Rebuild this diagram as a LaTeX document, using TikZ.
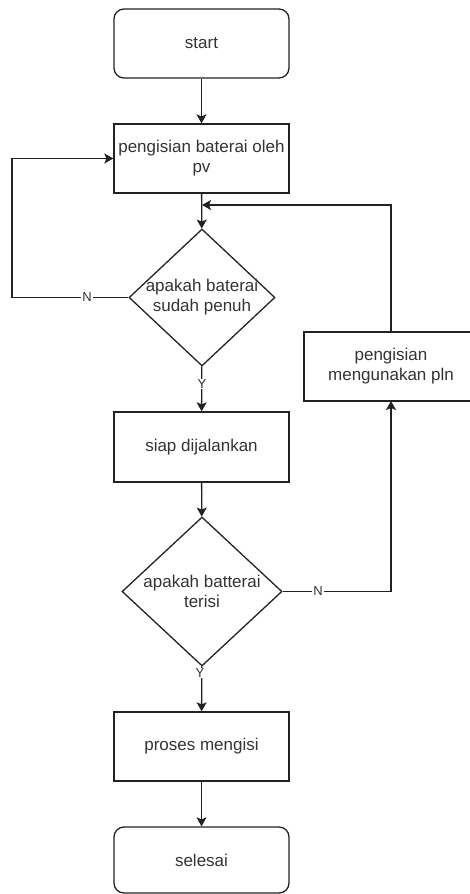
\documentclass[tikz,border=0pt]{standalone}
\usepackage{fontspec}
\setmainfont{Liberation Sans}
\usetikzlibrary{shapes.geometric,arrows.meta}
\definecolor{ln}{HTML}{222222}
\definecolor{tx}{HTML}{333333}
\begin{document}
\begin{tikzpicture}[x=1pt,y=-1pt,
  box/.style={draw=ln,line width=1.3pt,minimum width=175pt,minimum height=69pt,inner sep=0pt,text=tx,font=\fontsize{17}{20}\selectfont,align=center},
  term/.style={box,rounded corners=10pt},
  dec/.style={draw=ln,line width=1.3pt,shape=diamond,inner sep=0pt},
  dtext/.style={text=tx,font=\fontsize{17}{20}\selectfont,align=center},
  lbl/.style={fill=white,text=tx,inner sep=1pt,font=\fontsize{13}{15}\selectfont},
  conn/.style={draw=ln,line width=1.3pt},
  arr/.style={conn,-{Stealth[length=9pt,width=10pt,inset=2pt]}}]
\useasboundingbox (0,0) rectangle (470,894);
\clip (0,0) rectangle (470,894);
\node[term] (start) at (201.5,43.5) {start};
\node[box] (pv) at (201.5,158.5) {pengisian baterai oleh\\pv};
\node[dec,minimum width=146pt,minimum height=137pt] (d1) at (202,297.5) {};
\node[dtext] (d1t) at (202,297.5) {apakah baterai\\sudah penuh};
\node[box,minimum height=70pt] (siap) at (201.5,447) {siap dijalankan};
\node[box,minimum width=180pt] (pln) at (394,366.5) {};
\node[dtext] (plnt) at (391,366.5) {pengisian\\mengunakan pln};
\node[dec,minimum width=160pt,minimum height=149pt] (d2) at (202,591.5) {};
\node[dtext] (d2t) at (202,591.5) {apakah batterai\\terisi};
\node[box] (proses) at (201.5,746.5) {proses mengisi};
\node[term,minimum height=66pt] (selesai) at (201.5,860) {selesai};
\coordinate (lc) at (12,297.5);
\coordinate (jn) at (202,205);
\coordinate (rc) at (391,591.5);
\coordinate (pt) at (391,332);
\coordinate (pb) at (391,401);
\draw[arr] (start) -- (pv);
\draw[arr] (pv) -- (d1);
\draw[arr] (d1.west) -- (lc) |- (pv.west);
\draw[arr] (d1) -- (siap);
\draw[arr] (siap) -- (d2);
\draw[arr] (d2.east) -- (rc) -- (pb);
\draw[arr] (pt) |- (jn);
\draw[arr] (d2) -- (proses);
\draw[arr] (proses) -- (selesai);
\node[lbl] (n1) at (87,297.5) {N};
\node[lbl] (y1) at (202,384) {Y};
\node[lbl] (n2) at (318,591.5) {N};
\node[lbl] (y2) at (200,673) {Y};
\end{tikzpicture}
\end{document}
